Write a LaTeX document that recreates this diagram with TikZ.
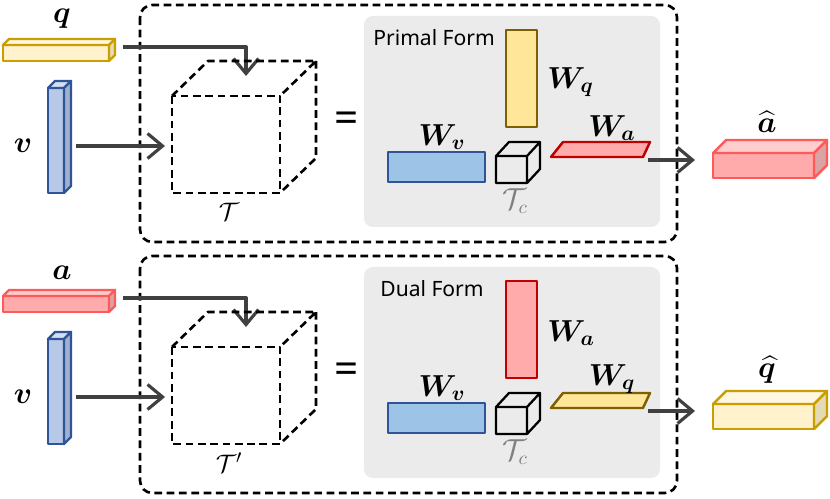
\documentclass[tikz,border=0pt]{standalone}
\usepackage{amsmath,amssymb,bm}
\usepackage{fontspec}
\newfontfamily\formfont{Noto Sans}
\usetikzlibrary{arrows.meta}
\definecolor{qvec}{RGB}{255,242,204}
\definecolor{qline}{RGB}{200,158,0}
\definecolor{qside}{RGB}{228,218,180}
\definecolor{qmat}{RGB}{255,230,153}
\definecolor{qmatline}{RGB}{127,96,0}
\definecolor{avec}{RGB}{255,171,171}
\definecolor{aline}{RGB}{255,90,90}
\definecolor{aside}{RGB}{218,164,164}
\definecolor{amat}{RGB}{255,171,171}
\definecolor{amatline}{RGB}{192,0,0}
\definecolor{vvec}{RGB}{184,200,232}
\definecolor{vline}{RGB}{47,85,151}
\definecolor{vside}{RGB}{160,176,206}
\definecolor{vmat}{RGB}{157,195,230}
\definecolor{vmatline}{RGB}{47,85,151}
\definecolor{panelgray}{RGB}{235,235,235}
\definecolor{arrowgray}{RGB}{64,64,64}
% front (x1,y1)-(x2,y2), depth, fill, line, side
\newcommand{\prismbar}[8]{%
  \filldraw[draw=#7,fill=#6,line width=1.4pt] (#1,#2) rectangle (#3,#4);
  \filldraw[draw=#7,fill=#6!60!white,line width=1.4pt] (#1,#2) -- ({#1+#5},{#2-#5}) -- ({#3+#5},{#2-#5}) -- (#3,#2) -- cycle;
  \filldraw[draw=#7,fill=#8,line width=1.4pt] (#3,#2) -- ({#3+#5},{#2-#5}) -- ({#3+#5},{#4-#5}) -- (#3,#4) -- cycle;}

\begin{document}
\begin{tikzpicture}[x=0.02cm,y=-0.02cm,line join=round,
  box/.style={line width=1.5pt,dash pattern=on 4.4pt off 2.6pt},
  flow/.style={-{Straight Barb[length=3mm,width=5mm,line width=1.8pt]},line width=2.2pt,arrowgray},
  veclab/.style={font=\fontsize{16}{18}\selectfont,inner sep=0pt},
  matlab/.style={font=\fontsize{16.5}{18}\selectfont,inner sep=0pt}]
  \useasboundingbox (0,0) rectangle (830,499);
  \foreach \dy/\inp/\outp/\tens/\fname/\fx in {0/q/a/{\mathcal{T}}/Primal/373,251/a/q/{\mathcal{T}'}/Dual/380}{
  \begin{scope}[shift={(0,\dy)}]
    \draw[box,rounded corners=7pt] (140,5) rectangle (677,242);
    \fill[panelgray,rounded corners=5pt] (364,16) rectangle (660,227);
    \node[anchor=west,inner sep=0pt,font=\formfont\fontsize{12}{14}\selectfont] (form-\inp) at (\fx,38) {\fname\ Form};
    % inputs
    \prismbar{3}{45}{109}{61}{6}{\inp vec}{\inp line}{\inp side}
    \node[veclab,anchor=south] (lab-\inp) at (62,29) {$\boldsymbol{\inp}$};
    \prismbar{48}{88}{64}{193}{7}{vvec}{vline}{vside}
    \node[veclab] (lab-v\inp) at (23,146) {$\boldsymbol{v}$};
    \coordinate (in-\inp) at (123,47); \coordinate (top-\inp) at (246,76);
    \coordinate (vin-\inp) at (76,146); \coordinate (front-\inp) at (165,146);
    \draw[flow] (in-\inp) -| (top-\inp);
    \draw[flow] (vin-\inp) -- (front-\inp);
    % tensor
    \draw[box] (172,96) rectangle (280,193);
    \draw[box] (172,96) -- (208,61) -- (316,61) -- (280,96) (316,61) -- (316,158) -- (280,193);
    \node[font=\fontsize{15}{17}\selectfont,inner sep=0pt] (tens-\inp) at (229,212) {$\tens$};
    \node[font=\formfont\bfseries\fontsize{24}{26}\selectfont,inner sep=0pt] (eq-\inp) at (347,122) {=};
    % decomposition
    \filldraw[draw=\inp matline,fill=\inp mat,line width=1.4pt] (506,30) rectangle (537,127);
    \node[matlab,anchor=west] (wi-\inp) at (547,82) {$\boldsymbol{W}_{\boldsymbol{\inp}}$};
    \filldraw[draw=vmatline,fill=vmat,line width=1.4pt] (388,152) rectangle (485,182);
    \node[matlab] (wv-\inp) at (442,137) {$\boldsymbol{W}_{\boldsymbol{v}}$};
    \draw[line width=1.3pt,fill=panelgray] (496,156) rectangle (527,183) (496,156) -- (509,142) -- (540,142) -- (527,156) (540,142) -- (540,169) -- (527,183);
    \node[font=\fontsize{16}{18}\selectfont,text=gray,inner sep=0pt] (tc-\inp) at (515,201) {$\mathcal{T}_c$};
    \filldraw[draw=\outp matline,fill=\outp mat,line width=1.4pt] (551,157) -- (643,157) -- (650,142) -- (563,142) -- cycle;
    \node[matlab] (wo-\inp) at (612,128) {$\boldsymbol{W}_{\boldsymbol{\outp}}$};
    % output
    \coordinate (res-\inp) at (648,160); \coordinate (hat-\inp) at (695,160);
    \draw[flow] (res-\inp) -- (hat-\inp);
    \prismbar{713}{153}{814}{178}{13}{\outp vec}{\outp line}{\outp side}
    \node[veclab,anchor=south] (lab-hat\outp) at (767,133) {$\widehat{\boldsymbol{\outp}}$};
  \end{scope}}
\end{tikzpicture}
\end{document}
